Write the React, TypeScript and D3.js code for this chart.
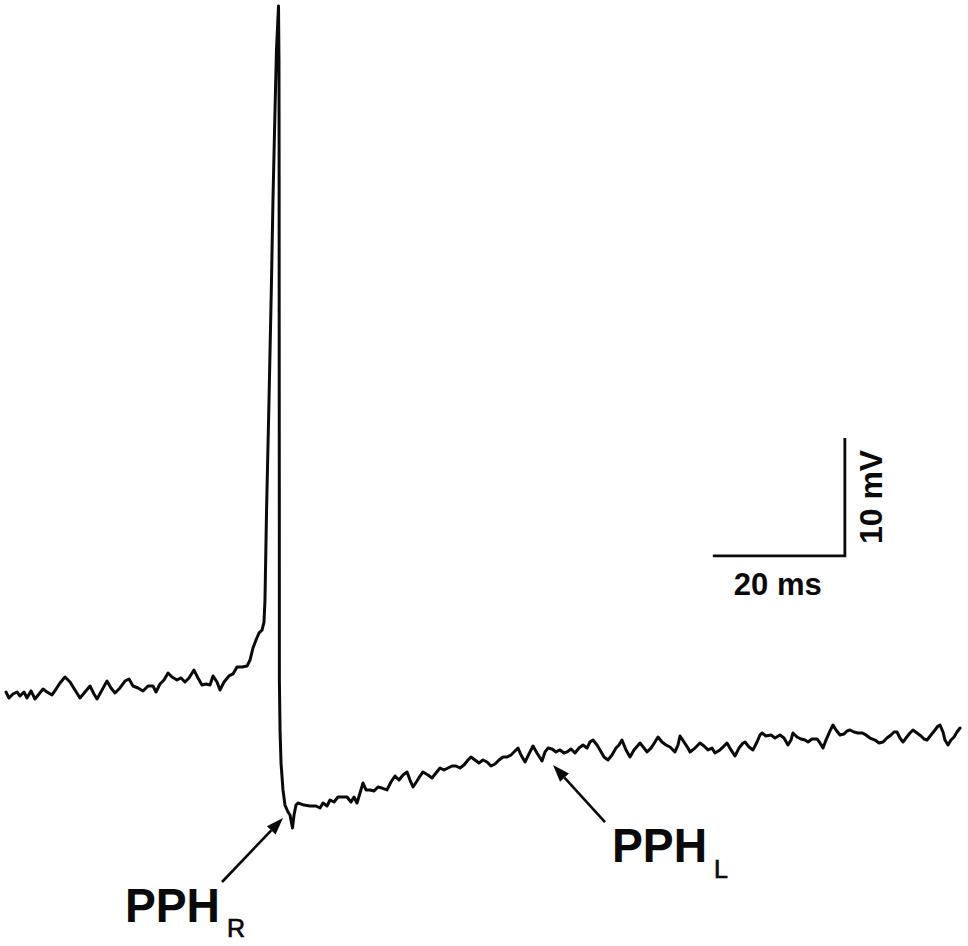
import React from "react";
import * as d3 from "d3";

// Membrane potential recording (time in ms, voltage in mV)
const TIME_MS = [
  0, 0.45, 1.06, 1.67, 2.12, 2.73, 3.18, 3.79, 4.39, 5.0, 5.61, 6.21, 6.97, 7.58, 8.18, 8.94, 9.7, 10.45, 11.21, 11.97,
  12.73, 13.33, 13.79, 14.55, 15.3, 15.91, 16.52, 17.27, 18.03, 18.64, 19.24, 20.0, 20.76, 21.52, 22.27, 22.73, 23.33,
  23.94, 24.55, 25.15, 25.91, 26.52, 27.12, 27.73, 28.48, 29.09, 29.7, 30.3, 30.91, 31.36, 31.97, 32.42, 33.03, 33.79,
  34.39, 35.0, 35.76, 36.52, 36.97, 37.42, 37.88, 38.33, 38.79, 39.09,
  // spike
  39.24, 39.47, 39.85, 40.23, 40.45, 40.76, 40.98, 41.29, 41.36, 41.38, 41.39, 41.41, 41.42, 41.52, 41.67, 41.97,
  42.27, 42.73, 43.03, 43.41, 43.64, 43.94, 44.24,
  // after-hyperpolarization
  45.15, 46.06, 46.97, 47.58, 48.03, 48.64, 49.09, 49.7, 50.3, 50.91, 51.67, 52.27, 52.73, 53.18, 53.64, 54.09, 54.55,
  55.15, 55.76, 56.36, 56.97, 57.73, 58.33, 58.94, 59.55, 60.15, 60.76, 61.21, 61.67, 62.27, 62.73, 63.18, 63.94, 64.55,
  65.15, 65.76, 66.36, 66.97, 67.58, 68.18, 68.79, 69.39, 70.0, 70.45, 71.06, 71.67, 72.27, 72.88, 73.48, 74.09, 74.7,
  75.3, 75.91, 76.52, 77.12, 77.58, 78.03, 78.64, 79.24, 79.85, 80.45, 81.21, 81.67, 82.12, 82.73, 83.33, 83.94, 84.55,
  85.0, 85.61, 86.21, 86.82, 87.42, 88.03, 88.48, 88.94, 89.55, 90.0, 90.61, 91.21, 91.82, 92.42, 92.88, 93.33, 93.94,
  94.55, 95.15, 96.06, 96.67, 97.12, 97.73, 98.33, 98.79, 99.39, 100.0, 100.61, 101.36, 101.82, 102.12, 102.73, 103.33,
  103.64, 104.39, 105.15, 105.76, 106.36, 106.97, 107.42, 108.18, 108.79, 109.24, 109.85, 110.45, 111.06, 111.67,
  111.97, 112.58, 113.18, 113.79, 114.24, 114.55, 115.15, 115.91, 116.52, 117.27, 117.88, 118.48, 118.94, 119.24,
  119.85, 120.45, 121.06, 121.52, 122.12, 122.88, 123.33, 123.79, 124.24, 124.85, 125.3, 125.76, 126.36, 126.97,
  127.42, 127.88, 128.48, 129.09, 129.7, 130.3, 130.91, 131.67, 132.27, 132.88, 133.48, 134.09, 134.55, 135.0, 135.45,
  135.91, 136.36, 136.97, 137.42, 138.03, 138.64, 139.09, 139.55, 140.15, 140.76, 141.21, 141.52, 141.97, 142.27,
  142.73, 143.18, 143.64, 144.09, 144.55,
];

const VOLTAGE_MV = [
  -60.17, -60.68, -60.34, -60.17, -60.51, -60.17, -60.68, -60.08, -60.76, -60.34, -59.92, -60.17, -60.42, -59.92, -59.41,
  -58.9, -59.32, -60.0, -60.68, -60.17, -59.66, -60.34, -60.76, -60.0, -59.24, -59.83, -60.25, -59.83, -59.24, -59.07,
  -59.66, -59.83, -60.08, -59.66, -59.66, -60.17, -59.49, -59.15, -58.56, -58.9, -59.15, -58.98, -59.32, -58.98, -58.31,
  -58.98, -59.58, -59.49, -59.58, -58.81, -59.32, -60.0, -59.32, -58.81, -58.64, -58.05, -58.05, -57.97, -57.46, -56.44,
  -55.76, -55.17, -54.92, -54.24,
  // spike
  -52.37, -45.0, -35.42, -25.25, -18.47, -10.85, -5.76, -2.03, -6.61, -14.24, -26.95, -43.9, -59.15, -63.39, -66.19,
  -68.47, -69.75, -70.34, -70.59, -71.69, -70.59, -69.75, -69.58,
  // after-hyperpolarization
  -69.75, -69.83, -69.83, -70.0, -69.58, -69.83, -69.32, -69.49, -69.07, -69.07, -69.07, -69.49, -69.07, -69.58, -68.73,
  -67.88, -68.47, -68.47, -68.56, -68.22, -68.31, -68.47, -67.8, -67.29, -67.63, -67.2, -66.95, -67.63, -68.22, -67.71,
  -67.29, -66.95, -67.2, -67.46, -67.03, -66.61, -66.78, -66.61, -66.44, -66.44, -66.61, -66.36, -65.93, -65.68, -65.93,
  -66.19, -65.93, -66.1, -66.44, -66.27, -65.93, -65.68, -65.68, -65.51, -65.17, -64.92, -65.51, -66.1, -65.42, -64.75,
  -65.34, -66.02, -65.25, -64.92, -65.0, -65.25, -65.08, -65.34, -65.25, -65.0, -65.34, -64.92, -64.66, -64.92, -64.41,
  -64.24, -64.66, -65.08, -65.68, -65.93, -65.51, -64.92, -64.66, -64.24, -65.08, -65.68, -65.08, -64.49, -64.92, -65.25,
  -64.92, -64.41, -63.98, -64.41, -64.66, -64.83, -65.25, -64.66, -63.9, -64.41, -64.92, -65.25, -64.92, -64.49, -64.75,
  -65.08, -64.92, -65.34, -65.08, -64.75, -64.49, -65.08, -65.59, -64.92, -64.49, -64.41, -64.83, -65.08, -64.41, -63.81,
  -63.64, -63.9, -63.81, -64.07, -63.81, -64.07, -64.66, -64.24, -63.64, -63.98, -64.15, -64.24, -64.41, -64.15, -64.15,
  -64.49, -64.92, -64.24, -63.47, -62.97, -63.39, -63.81, -63.73, -63.47, -63.39, -63.56, -63.64, -63.64, -63.81, -64.07,
  -64.24, -64.49, -64.41, -64.07, -63.81, -63.56, -63.56, -64.07, -64.41, -64.07, -63.64, -63.39, -63.64, -63.9, -64.15,
  -64.24, -63.81, -63.39, -63.05, -62.97, -63.56, -64.24, -64.66, -64.24, -63.98, -63.56, -63.22,
];

// Scale bar (data units)
const SCALE_TIME_MS = 20;
const SCALE_VOLT_MV = 10;
const SCALE_ANCHOR = { t: 127.1, v: -48.64 };
const SCALE_LABELS = ["20 ms", "10 mV"];

// Annotations: label, subscript, arrow tail/tip, label anchor (data units)
const ANNOTATIONS = [
  { label: "PPH", sub: "R", tail: [32.73, -76.27], tip: [41.97, -70.85], at: [18.03, -79.66] },
  { label: "PPH", sub: "L", tail: [90.76, -71.19], tip: [82.88, -66.36], at: [91.82, -74.58] },
];

const W = 968;
const H = 946;

export default function App() {
  const x = d3.scaleLinear().domain([0, 145]).range([6, 963]);
  const y = d3.scaleLinear().domain([-75, 0]).range([867, -18]);

  const pts = TIME_MS.map((t, i) => [t, VOLTAGE_MV[i]] as [number, number]);
  const line = d3
    .line<[number, number]>()
    .x((d) => x(d[0]))
    .y((d) => y(d[1]));

  const sx0 = x(SCALE_ANCHOR.t - SCALE_TIME_MS);
  const sx1 = x(SCALE_ANCHOR.t);
  const sy0 = y(SCALE_ANCHOR.v);
  const sy1 = y(SCALE_ANCHOR.v + SCALE_VOLT_MV);

  const font = "'Liberation Sans', Arial, Helvetica, sans-serif";
  const ink = "#0a0a0a";

  return (
    <svg
      width={W}
      height={H}
      style={{ position: "absolute", left: 0, top: 0, background: "#fff", display: "block" }}
    >
      <rect x={0} y={0} width={W} height={H} fill="#fff" />
      <path
        d={line(pts) || ""}
        fill="none"
        stroke={ink}
        strokeWidth={3}
        strokeLinejoin="round"
        strokeLinecap="round"
      />

      {/* scale bar */}
      <path d={`M${sx0},${sy0}H${sx1}V${sy1}`} fill="none" stroke={ink} strokeWidth={2.8} />
      <text
        x={(sx0 + sx1) / 2 - 1}
        y={sy0 + 39}
        textAnchor="middle"
        fontFamily={font}
        fontWeight="bold"
        fontSize={32}
        fill={ink}
        textLength={88}
        lengthAdjust="spacingAndGlyphs"
      >
        {SCALE_LABELS[0]}
      </text>
      <text
        transform={`translate(${sx1 + 37},${(sy0 + sy1) / 2}) rotate(-90)`}
        textAnchor="middle"
        fontFamily={font}
        fontWeight="bold"
        fontSize={32}
        fill={ink}
      >
        {SCALE_LABELS[1]}
      </text>

      {/* annotations */}
      {ANNOTATIONS.map((a, i) => {
        const x0 = x(a.tail[0]);
        const y0 = y(a.tail[1]);
        const x1 = x(a.tip[0]);
        const y1 = y(a.tip[1]);
        const ang = Math.atan2(y1 - y0, x1 - x0);
        const hl = 17;
        const hw = 6;
        const bx = x1 - hl * Math.cos(ang);
        const by = y1 - hl * Math.sin(ang);
        const px = -Math.sin(ang) * hw;
        const py = Math.cos(ang) * hw;
        const lx = x(a.at[0]);
        const ly = y(a.at[1]);
        return (
          <g key={i}>
            <line x1={x0} y1={y0} x2={bx} y2={by} stroke={ink} strokeWidth={2.6} />
            <path d={`M${x1},${y1}L${bx + px},${by + py}L${bx - px},${by - py}Z`} fill={ink} />
            <text
              x={lx}
              y={ly}
              fontFamily={font}
              fontWeight="bold"
              fontSize={48}
              fill={ink}
              textLength={95}
              lengthAdjust="spacingAndGlyphs"
            >
              {a.label}
            </text>
            <text
              x={lx + 102}
              y={ly + (a.sub === "R" ? 15 : 16)}
              fontFamily={font}
              fontSize={25}
              fill={ink}
              stroke={ink}
              strokeWidth={0.7}
            >
              {a.sub}
            </text>
          </g>
        );
      })}
    </svg>
  );
}
